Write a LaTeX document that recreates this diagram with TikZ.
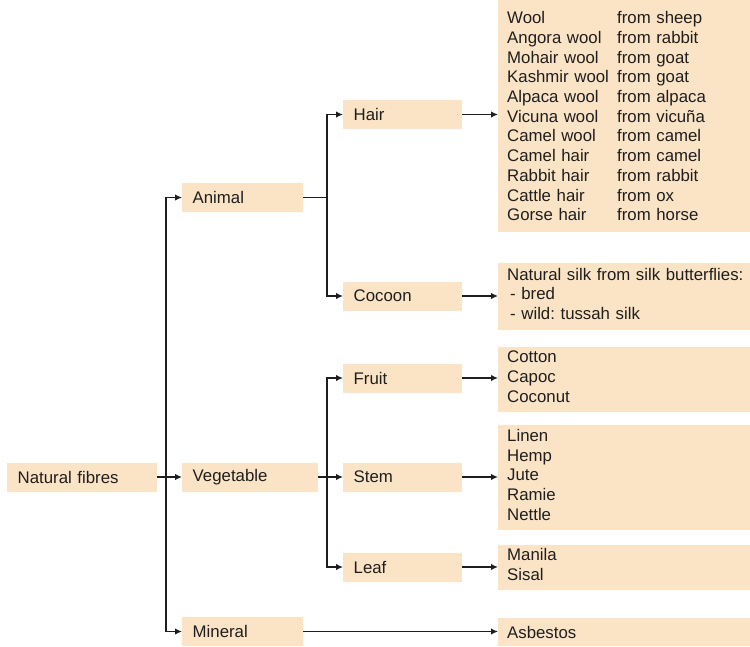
\documentclass[tikz,border=0pt]{standalone}
\usepackage{fontspec}
\setmainfont{Liberation Sans}
\usepackage{tikz}
\usetikzlibrary{arrows.meta}
\definecolor{boxfill}{RGB}{251,228,198}
\definecolor{ink}{RGB}{30,30,30}
\frenchspacing

\begin{document}
\begin{tikzpicture}[x=1pt,y=-1pt,
    catbox/.style={fill=boxfill,text=ink,font=\fontsize{16.8}{19.7}\selectfont,
      anchor=west,minimum height=29pt,inner xsep=10.5pt,align=left},
    listbox/.style={fill=boxfill,text=ink,font=\fontsize{16.8}{19.7}\selectfont,
      anchor=north west,inner xsep=9pt,text width=250pt,align=left},
    link/.style={ink,line width=1.4pt},
    arr/.style={link,-{Latex[length=7pt,width=6.5pt]}}]
      \useasboundingbox (0,0) rectangle (750,646);

      \node [catbox,text width=129pt] (natural) at (7,477) {Natural fibres};

      \node [catbox,text width=100pt] (animal) at (182,197.5) {Animal};
      \node [catbox,text width=115pt] (vegetable) at (182,477) {Vegetable};
      \node [catbox,text width=100pt] (mineral) at (182,631.5) {Mineral};

      \node [catbox,text width=98pt] (hair) at (343,114.5) {Hair};
      \node [catbox,text width=98pt] (cocoon) at (343,296) {Cocoon};
      \node [catbox,text width=98pt] (fruit) at (343,378) {Fruit};
      \node [catbox,text width=98pt] (stem) at (343,477) {Stem};
      \node [catbox,text width=98pt] (leaf) at (343,567) {Leaf};

      \node [listbox,minimum height=232pt] (wool) at (498,0) {%
        \makebox[110pt][l]{Wool}from sheep\\
        \makebox[110pt][l]{Angora wool}from rabbit\\
        \makebox[110pt][l]{Mohair wool}from goat\\
        \makebox[110pt][l]{Kashmir wool}from goat\\
        \makebox[110pt][l]{Alpaca wool}from alpaca\\
        \makebox[110pt][l]{Vicuna wool}from vicuña\\
        \makebox[110pt][l]{Camel wool}from camel\\
        \makebox[110pt][l]{Camel hair}from camel\\
        \makebox[110pt][l]{Rabbit hair}from rabbit\\
        \makebox[110pt][l]{Cattle hair}from ox\\
        \makebox[110pt][l]{Gorse hair}from horse};
      \node [listbox,minimum height=67pt] (silk) at (498,263) {Natural silk from silk butterflies:\\
        \hspace*{3pt}- bred\\ \hspace*{3pt}- wild: tussah silk\strut};
      \node [listbox,minimum height=65pt] (seedfib) at (498,347) {Cotton\\ Capoc\\ Coconut\strut};
      \node [listbox,minimum height=105pt] (bastfib) at (498,425) {Linen\\ Hemp\\ Jute\\ Ramie\\ Nettle\strut};
      \node [listbox,minimum height=45pt] (leaffib) at (498,545) {Manila\\ Sisal\strut};
      \node [listbox,minimum height=28pt] (asbestos) at (498,618) {Asbestos};

      % main branch
      \coordinate (nfork) at (166,477);
      \draw [link] (natural.east) -- (nfork);
      \draw [arr] (nfork) |- (animal.west);
      \draw [arr] (nfork) -- (vegetable.west);
      \draw [arr] (nfork) |- (mineral.west);

      % animal fibres
      \coordinate (afork) at (327,197.5);
      \draw [link] (animal.east) -- (afork);
      \draw [arr] (afork) |- (hair.west);
      \draw [arr] (afork) |- (cocoon.west);

      % vegetable fibres
      \coordinate (vfork) at (327,477);
      \draw [link] (vegetable.east) -- (vfork);
      \draw [arr] (vfork) |- (fruit.west);
      \draw [arr] (vfork) -- (stem.west);
      \draw [arr] (vfork) |- (leaf.west);

      \draw [arr] (hair.east) -- (hair.east -| wool.west);
      \draw [arr] (cocoon.east) -- (cocoon.east -| silk.west);
      \draw [arr] (fruit.east) -- (fruit.east -| seedfib.west);
      \draw [arr] (stem.east) -- (stem.east -| bastfib.west);
      \draw [arr] (leaf.east) -- (leaf.east -| leaffib.west);
      \draw [arr] (mineral.east) -- (mineral.east -| asbestos.west);
    \end{tikzpicture}
\end{document}
